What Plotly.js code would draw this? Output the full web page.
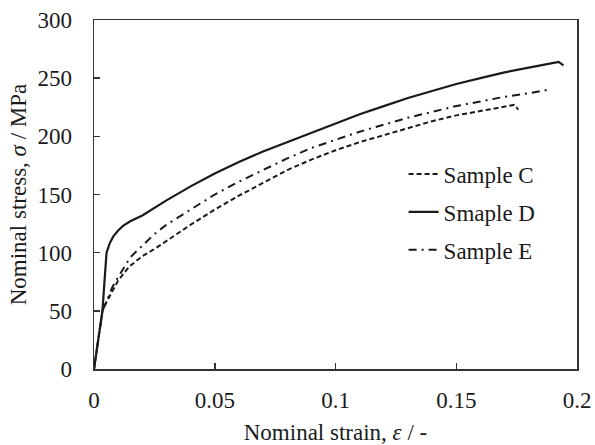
<!DOCTYPE html>
<html>
<head>
<meta charset="utf-8">
<script src="https://cdn.plot.ly/plotly-3.0.1.min.js"></script>
<style>html,body{margin:0;padding:0;background:#fff;}#chart{width:595px;height:445px;}</style>
</head>
<body>
<div id="chart"></div>
<script>
// Sample C (dashed)
const strainC = [0, 0.0035, 0.005, 0.0075, 0.01, 0.0146, 0.02, 0.0257, 0.03, 0.04, 0.05, 0.06, 0.07, 0.08, 0.09, 0.1, 0.11, 0.12, 0.13, 0.14, 0.15, 0.16, 0.17, 0.174, 0.1757];
const stressC = [0, 50, 57, 67, 76, 88, 97, 104, 110, 124, 137, 149, 160, 171, 180, 188, 195, 201, 207, 213, 218, 222, 226, 227, 223];
// Smaple D (solid)
const strainD = [0, 0.002, 0.0035, 0.0045, 0.0052, 0.0065, 0.008, 0.01, 0.012, 0.015, 0.02, 0.03, 0.04, 0.05, 0.06, 0.07, 0.08, 0.09, 0.1, 0.11, 0.12, 0.13, 0.14, 0.15, 0.16, 0.17, 0.18, 0.19, 0.1924, 0.1944];
const stressD = [0, 28, 50, 80, 100, 108, 114, 119, 123, 127, 132, 145, 157, 168, 178, 187, 195, 203, 211, 219, 226, 233, 239, 245, 250, 255, 259, 263, 264, 261];
// Sample E (dash-dot)
const strainE = [0, 0.0035, 0.005, 0.0075, 0.01, 0.0118, 0.015, 0.02, 0.025, 0.03, 0.04, 0.05, 0.06, 0.07, 0.08, 0.09, 0.1, 0.11, 0.12, 0.13, 0.14, 0.15, 0.16, 0.17, 0.18, 0.188];
const stressE = [0, 50, 57, 70, 79, 85, 96, 106, 116, 124, 137, 150, 161, 171, 181, 190, 197, 204, 210, 216, 221, 226, 230, 234, 237, 240];

const names = ["Sample C", "Smaple D", "Sample E"];
const xTicks = [0, 0.05, 0.1, 0.15, 0.2];
const yTicks = [0, 50, 100, 150, 200, 250, 300];

const fontFam = "'Liberation Serif', 'Times New Roman', serif";
const ink = "#1a1a1a";

const traces = [
  {x: strainC, y: stressC, name: names[0], legendgroup: "c", mode: "lines", line: {color: ink, width: 2, dash: "5px,3px"}},
  {x: strainD, y: stressD, name: names[1], legendgroup: "d", mode: "lines", line: {color: ink, width: 2.2}},
  {x: strainE, y: stressE, name: names[2], legendgroup: "e", mode: "lines", line: {color: ink, width: 2, dash: "8px,5px,2px,5px"}}
];

const axisCommon = {
  showgrid: false, zeroline: false, showline: true, linecolor: "#333", linewidth: 1.5,
  mirror: true, ticks: "inside", ticklen: 6, tickwidth: 1.5, tickcolor: "#333",
  tickfont: {family: fontFam, size: 23, color: ink}
};

const layout = {
  width: 595, height: 445,
  margin: {l: 94, r: 18, t: 20, b: 76},
  paper_bgcolor: "#fff", plot_bgcolor: "#fff",
  font: {family: fontFam, color: ink},
  showlegend: true,
  legend: {x: 0.641, y: 0.62, xanchor: "left", yanchor: "top", bgcolor: "rgba(0,0,0,0)",
           traceorder: "grouped", tracegroupgap: 5,
           font: {family: fontFam, size: 23, color: ink}},
  xaxis: Object.assign({}, axisCommon, {
    range: [0, 0.2], tickvals: xTicks, ticktext: xTicks.map(String), ticklabelstandoff: 10,
    title: {text: "Nominal strain, <i>ε</i> / -", font: {family: fontFam, size: 23, color: ink}, standoff: 12}
  }),
  yaxis: Object.assign({}, axisCommon, {
    range: [0, 300], tickvals: yTicks, ticktext: yTicks.map(String), ticklabelstandoff: 16,
    title: {text: "Nominal stress, <i>σ</i> / MPa", font: {family: fontFam, size: 23, color: ink}, standoff: 4}
  })
};

Plotly.newPlot("chart", traces, layout, {displayModeBar: false, staticPlot: true});
</script>
</body>
</html>
